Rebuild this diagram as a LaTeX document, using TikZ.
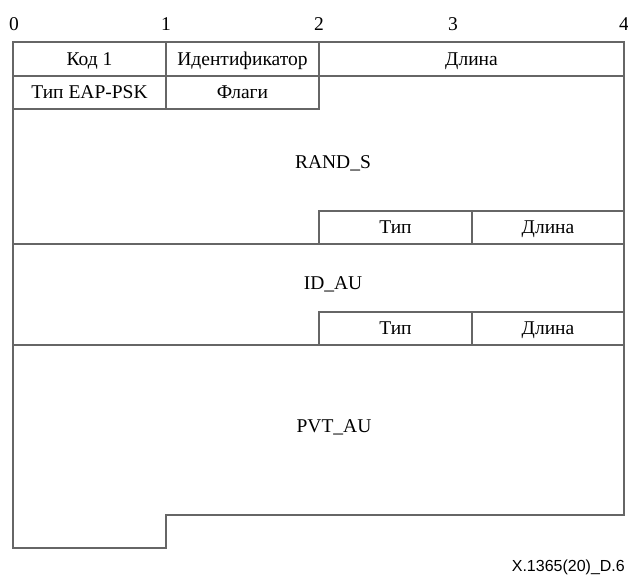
\documentclass[tikz,border=0pt]{standalone}
\usepackage{fontspec}
\setmainfont{Liberation Serif}
\newfontfamily\capfont{Liberation Sans}
\begin{document}
\begin{tikzpicture}[x=1pt,y=-1pt,
  frame/.style={draw=black!60, line width=1.4pt},
  cell/.style={frame, rectangle, inner sep=0pt, outer sep=0pt, text height=12.8pt, text depth=0pt, font=\fontsize{19.5}{22}\selectfont},
  lbl/.style={inner sep=0pt, text height=12.8pt, text depth=0pt, font=\fontsize{19.5}{22}\selectfont},
  num/.style={inner sep=0pt, text height=13pt, text depth=0pt, font=\fontsize{19.5}{22}\selectfont}]
\useasboundingbox (0,0) rectangle (628,574);
% column numbers
\node[num] (n0) at (14,24) {0};
\node[num] (n1) at (166,24) {1};
\node[num] (n2) at (319,24) {2};
\node[num] (n3) at (453,24) {3};
\node[num] (n4) at (624,24) {4};
% outline
\coordinate (tl) at (13,76);
\coordinate (bl) at (13,548);
\coordinate (bm) at (166,548);
\coordinate (sm) at (166,515);
\coordinate (sr) at (624,515);
\coordinate (tr) at (624,76);
\draw[frame] (tl) -- (bl) -- (bm) -- (sm) -- (sr) -- (tr);
% header cells
\node[cell, minimum width=153pt, minimum height=34pt] (kod) at (89.5,59) {Код 1};
\node[cell, minimum width=153pt, minimum height=34pt] (ident) at (242.5,59) {Идентификатор};
\node[cell, minimum width=305pt, minimum height=34pt] (len0) at (471.5,59) {Длина};
\node[cell, minimum width=153pt, minimum height=33pt] (typ0) at (89.5,92.5) {Тип EAP-PSK};
\node[cell, minimum width=153pt, minimum height=33pt] (flags) at (242.5,92.5) {Флаги};
% RAND_S
\node[lbl] (rand) at (333,162) {RAND\_S};
\node[cell, minimum width=153pt, minimum height=33pt] (typ1) at (395.5,227.5) {Тип};
\node[cell, minimum width=152pt, minimum height=33pt] (len1) at (548,227.5) {Длина};
\coordinate (l1a) at (13,244);
\draw[frame] (l1a) -- (typ1.south west);
% ID_AU
\node[lbl] (idau) at (333,283) {ID\_AU};
\node[cell, minimum width=153pt, minimum height=33pt] (typ2) at (395.5,328.5) {Тип};
\node[cell, minimum width=152pt, minimum height=33pt] (len2) at (548,328.5) {Длина};
\coordinate (l2a) at (13,345);
\draw[frame] (l2a) -- (typ2.south west);
% PVT_AU
\node[lbl] (pvt) at (334,426) {PVT\_AU};
% caption
\node[inner sep=0pt, anchor=east, font=\capfont\fontsize{16}{18}\selectfont] (cap) at (625,567) {X.1365(20)\_D.6};
\end{tikzpicture}
\end{document}
